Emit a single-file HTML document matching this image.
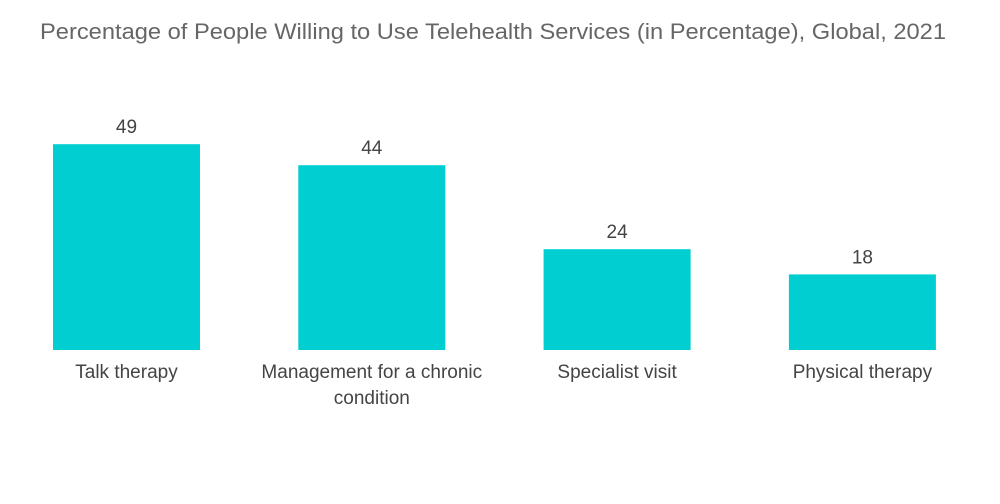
<!DOCTYPE html>
<html><head><meta charset="utf-8"><style>
html,body{margin:0;padding:0;background:#fff;}
svg{display:block;font-family:"Liberation Sans",sans-serif;}
</style></head><body>
<svg id="chart" width="1000" height="504">
<text x="493" y="39" text-anchor="middle" font-size="22" fill="#666" textLength="906" lengthAdjust="spacingAndGlyphs">Percentage of People Willing to Use Telehealth Services (in Percentage), Global, 2021</text>
<g id="bars"></g>
</svg>
<script>
const categories = [["Talk therapy"], ["Management for a chronic", "condition"], ["Specialist visit"], ["Physical therapy"]];
const values = [49, 44, 24, 18];
const valueLabels = ["49", "44", "24", "18"];
const names = ["bar-talk-therapy", "bar-chronic-condition", "bar-specialist-visit", "bar-physical-therapy"];

const baseY = 350, pxPerUnit = 4.2, firstX = 53, step = 245.3, barW = 147;
function yScale(v){ return baseY - v * pxPerUnit; }
function xScale(i){ return firstX + i * step; }
const NS = "http://www.w3.org/2000/svg";
const g = document.getElementById("bars");
values.forEach((v, i) => {
  const x = xScale(i), y = yScale(v);
  const r = document.createElementNS(NS, "rect");
  r.setAttribute("x", x); r.setAttribute("y", y);
  r.setAttribute("width", barW); r.setAttribute("height", baseY - y);
  r.setAttribute("fill", "#00CED1");
  
  
  g.appendChild(r);
  const t = document.createElementNS(NS, "text");
  t.setAttribute("x", x + barW / 2); t.setAttribute("y", y - 11);
  t.setAttribute("text-anchor", "middle"); t.setAttribute("font-size", "19"); t.setAttribute("fill", "#444");
  t.textContent = valueLabels[i];
  
  
  g.appendChild(t);
  categories[i].forEach((line, j) => {
    const c = document.createElementNS(NS, "text");
    c.setAttribute("x", x + barW / 2); c.setAttribute("y", 378 + j * 26);
    c.setAttribute("text-anchor", "middle"); c.setAttribute("font-size", "19"); c.setAttribute("fill", "#444");
    c.textContent = line;
    
    
    g.appendChild(c);
  });
});
</script>
</body></html>
